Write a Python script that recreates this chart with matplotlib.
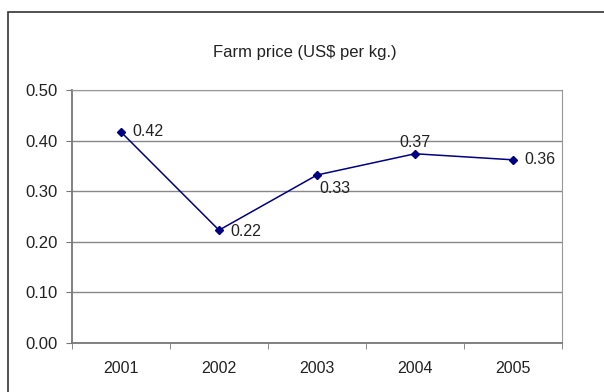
import numpy as np
import matplotlib.pyplot as plt
from matplotlib.patches import Rectangle

plt.rcParams['font.family'] = ['Liberation Sans', 'DejaVu Sans']

# DATA
years = ["2001", "2002", "2003", "2004", "2005"]
prices = [0.417, 0.223, 0.332, 0.374, 0.362]
labels = ["0.42", "0.22", "0.33", "0.37", "0.36"]
yticks = [0.0, 0.1, 0.2, 0.3, 0.4, 0.5]

W, H = 604, 392
fig = plt.figure(figsize=(W/100, H/100), dpi=100)
# plot area in pixels: x 72..562, y 90..343
ax = fig.add_axes([72/W, 1-343/H, (562-72)/W, (343-90)/H])

x = np.arange(len(years))
ax.plot(x, prices, color="#000080", lw=1.1, marker="D", ms=4.5, zorder=3)

# data labels (offset in points)
offsets = [(8, 0, "left", "center"), (8, -1, "left", "center"),
           (2, -4, "left", "top"), (0, 3, "center", "bottom"),
           (8, 0, "left", "center")]
for xi, yi, lab, (dx, dy, ha, va) in zip(x, prices, labels, offsets):
    ax.annotate(lab, (xi, yi), xytext=(dx, dy), textcoords="offset points",
                ha=ha, va=va, fontsize=11.5, color="#222222")

ax.set_xlim(-0.5, len(years)-0.5)
ax.set_ylim(0, 0.5)
ax.set_yticks(yticks)
ax.set_yticklabels([f"{v:.2f}" for v in yticks])
ax.set_xticks(x)
ax.set_xticklabels(years)
ax.set_xticks(np.arange(-0.5, len(years)), minor=True)
ax.tick_params(axis="x", which="major", length=0, pad=13, labelsize=11.5, colors="#222222")
ax.tick_params(axis="x", which="minor", length=4, direction="out", color="#777777")
ax.tick_params(axis="y", length=4, direction="out", color="#777777", labelsize=12,
               labelcolor="#222222", pad=6)
ax.grid(axis="y", color="#888888", lw=1)
ax.set_axisbelow(True)
for s in ["top", "right"]:
    ax.spines[s].set_color("#999999")
for s in ["left", "bottom"]:
    ax.spines[s].set_color("#777777")
    ax.spines[s].set_linewidth(1.3)

fig.text(305/W, 1-53/H, "Farm price (US$ per kg.)", ha="center", va="center",
         fontsize=12, color="#222222")

# outer chart frame
fig.add_artist(Rectangle((8/W, -0.05), 1.0, 1-12/H+0.05, transform=fig.transFigure,
                         fill=False, edgecolor="#333333", lw=1.2))

fig.savefig("out.png", dpi=100)
